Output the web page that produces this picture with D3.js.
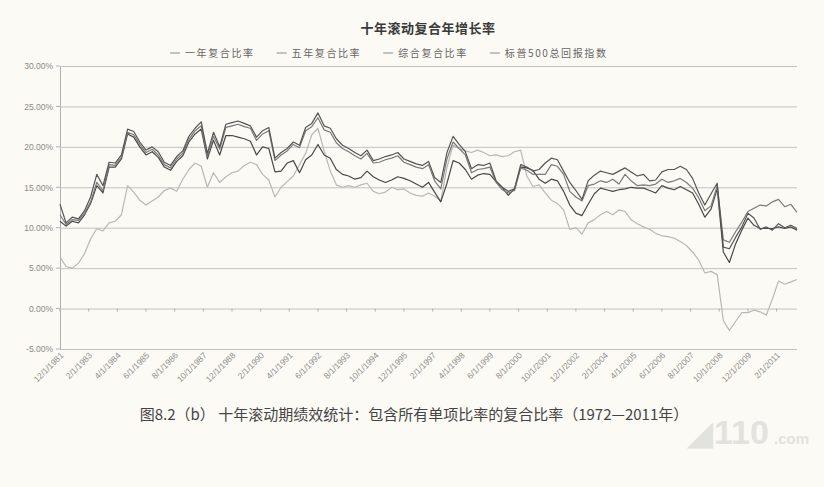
<!DOCTYPE html>
<html>
<head>
<meta charset="utf-8">
<script src="https://cdn.jsdelivr.net/npm/d3@7"></script>
<style>
  body { margin: 0; background: #fbfaf4; }
</style>
</head>
<body>
<div id="chart"></div>
<script>
// Series names, as shown in the legend
var seriesNames = ["一年复合比率", "五年复合比率", "综合复合比率", "标普500总回报指数"];

// Category axis labels (every 14 months)
var tickLabels = ["12/1/1981", "2/1/1983", "4/1/1984", "6/1/1985", "8/1/1986", "10/1/1987",
    "12/1/1988", "2/1/1990", "4/1/1991", "6/1/1992", "8/1/1993", "10/1/1994", "12/1/1995",
    "2/1/1997", "4/1/1998", "6/1/1999", "8/1/2000", "10/1/2001", "12/1/2002", "2/1/2004",
    "4/1/2005", "6/1/2006", "8/1/2007", "10/1/2008", "12/1/2009", "2/1/2011"];

var yTicks = [-5, 0, 5, 10, 15, 20, 25, 30];

// Quarterly readings (%), Dec 1981 .. Dec 2011
var oneYear = [12.9, 10.6, 11.3, 11.1, 12.1, 13.8, 16.6, 15.2, 18.1, 18.0,
    19.0, 22.2, 21.9, 20.6, 19.6, 20.0, 19.4, 18.1, 17.7, 18.8,
    19.5, 21.3, 22.3, 23.1, 19.2, 21.8, 20.0, 22.8, 23.0, 23.2,
    22.9, 22.6, 21.2, 22.0, 22.4, 18.6, 19.3, 19.8, 20.6, 20.2,
    22.4, 22.9, 24.2, 22.6, 22.3, 21.0, 20.2, 19.8, 19.3, 18.9,
    19.6, 18.3, 18.5, 18.8, 19.0, 19.3, 18.5, 18.2, 17.9, 17.7,
    18.2, 16.2, 15.6, 19.3, 21.3, 20.3, 19.4, 17.3, 17.8, 17.7,
    18.0, 15.8, 15.0, 14.5, 14.8, 17.8, 17.5, 17.0, 17.2, 18.0,
    18.6, 18.4, 17.0, 15.6, 14.6, 13.5, 15.8, 16.5, 17.0, 16.8,
    16.6, 17.0, 17.4, 16.9, 16.4, 16.6, 15.8, 15.9, 16.9, 17.2,
    17.2, 17.6, 17.2, 16.1, 14.3, 12.8, 14.2, 15.5, 7.6, 7.4,
    8.8, 10.1, 11.8, 11.2, 9.8, 10.1, 9.7, 10.5, 10.0, 10.3, 9.9];

var fiveYear = [11.6, 10.4, 11.0, 10.9, 11.8, 13.2, 15.6, 14.6, 17.8, 17.7,
    18.7, 21.8, 21.5, 20.3, 19.3, 19.7, 19.0, 17.8, 17.4, 18.5,
    19.2, 20.9, 22.0, 22.6, 18.8, 21.3, 19.7, 22.4, 22.6, 22.8,
    22.5, 22.3, 20.8, 21.6, 22.0, 18.3, 19.0, 19.5, 20.3, 19.9,
    22.0, 22.5, 23.6, 22.1, 21.8, 20.5, 19.8, 19.4, 18.9, 18.5,
    19.2, 18.0, 18.1, 18.4, 18.6, 18.9, 18.1, 17.8, 17.5, 17.3,
    17.8, 15.8, 14.8, 18.5, 20.6, 19.8, 19.0, 16.8, 17.2, 17.3,
    17.5, 15.6, 14.7, 14.3, 14.6, 17.4, 17.1, 16.6, 16.6, 16.6,
    17.8, 17.6, 16.6, 14.5, 13.8, 13.3, 15.2, 15.4, 15.8, 15.6,
    16.0, 15.4, 16.6, 15.8, 15.2, 15.3, 15.2, 15.4, 16.0, 15.6,
    15.8, 16.1, 15.6, 14.9, 13.7, 12.1, 12.7, 15.2, 8.5, 8.2,
    9.5, 10.7, 12.0, 12.4, 12.8, 12.7, 13.2, 13.5, 12.6, 12.9, 11.9];

var combined = [10.8, 10.2, 10.8, 10.6, 11.6, 13.0, 15.2, 14.3, 17.5, 17.5,
    18.5, 21.6, 21.2, 20.0, 19.0, 19.4, 18.7, 17.5, 17.1, 18.2,
    18.9, 20.6, 21.6, 22.2, 18.5, 20.8, 19.0, 21.4, 21.4, 21.2,
    21.0, 20.7, 19.0, 20.0, 19.8, 16.9, 17.0, 18.0, 18.3, 16.8,
    18.4, 19.0, 20.3, 19.0, 18.6, 17.2, 16.6, 16.4, 16.0, 16.2,
    17.0, 16.3, 15.9, 15.6, 15.9, 16.3, 16.1, 15.8, 15.4, 15.0,
    15.6, 14.4, 13.2, 15.5, 18.3, 18.0, 17.2, 16.0, 16.5, 16.7,
    16.6, 15.7, 15.0, 14.0, 14.8, 17.5, 17.4, 17.1, 16.0, 15.5,
    16.0, 15.8, 14.5, 12.8, 11.8, 11.5, 12.9, 14.2, 14.9, 14.7,
    14.5, 14.7, 14.8, 15.0, 14.9, 14.9, 14.6, 14.3, 15.2, 14.9,
    14.7, 15.1, 14.7, 14.3, 12.9, 11.3, 12.3, 14.8, 7.0, 5.7,
    8.0, 9.7, 11.2, 10.3, 9.9, 9.9, 9.9, 10.1, 9.9, 10.1, 9.7];

var sp500 = [6.4, 5.2, 5.0, 5.6, 6.8, 8.6, 9.9, 9.6, 10.6, 10.8,
    11.6, 15.2, 14.4, 13.4, 12.8, 13.3, 13.8, 14.6, 14.9, 14.5,
    16.0, 17.2, 18.0, 17.6, 15.0, 16.8, 15.6, 16.3, 16.8, 17.0,
    17.7, 18.1, 17.8, 16.6, 15.9, 13.8, 15.0, 15.7, 16.4, 17.8,
    19.2, 21.5, 22.3, 19.5, 17.0, 15.3, 15.0, 15.2, 15.0, 15.3,
    15.5, 14.5, 14.2, 14.4, 15.0, 14.7, 14.8, 14.3, 14.0, 13.9,
    14.3, 13.9, 13.3, 17.5, 20.2, 19.8, 19.5, 19.3, 19.6, 19.3,
    18.9, 19.0, 18.8, 18.9, 19.4, 19.6, 16.4, 15.1, 15.3, 14.3,
    13.4, 13.0, 12.2, 9.8, 10.0, 9.2, 10.6, 11.0, 11.6, 12.0,
    11.6, 12.2, 12.0, 11.0, 10.5, 10.1, 9.8, 9.3, 9.0, 8.9,
    8.7, 8.3, 7.8, 7.0, 6.0, 4.4, 4.6, 4.2, -1.5, -2.7,
    -1.6, -0.5, -0.5, -0.2, -0.4, -0.8, 1.2, 3.4, 3.0, 3.3, 3.6];

var seriesColors = ["#555555", "#7a7a7a", "#484848", "#b8b8b8"];

var fullWidth = 824, fullHeight = 487;
var margin = { top: 66, right: 27, bottom: 138, left: 60 };
var width = fullWidth - margin.left - margin.right;
var height = fullHeight - margin.top - margin.bottom;

var parseDate = d3.timeParse("%m/%d/%Y");
var firstDate = new Date(1981, 11, 1);
var dates = d3.range(oneYear.length).map(function(i) { return d3.timeMonth.offset(firstDate, 3 * i); });

var seriesData = [oneYear, fiveYear, combined, sp500].map(function(values, i) {
    return {
        name: seriesNames[i],
        color: seriesColors[i],
        values: values.map(function(v, j) { return { date: dates[j], value: v }; })
    };
});

var x = d3.scaleTime().domain([dates[0], dates[dates.length - 1]]).range([0, width]);
var y = d3.scaleLinear().domain([-5, 30]).range([height, 0]);

var svg = d3.select("#chart").append("svg")
    .attr("width", fullWidth)
    .attr("height", fullHeight)
    .style("font-family", "'Liberation Sans', Arial, sans-serif");

svg.append("rect").attr("width", fullWidth).attr("height", fullHeight).attr("fill", "#fbfaf4");

// Title
svg.append("text")
    .attr("x", 428).attr("y", 33)
    .attr("text-anchor", "middle")
    .style("font-family", "'Noto Sans CJK SC', sans-serif")
    .style("font-weight", "bold")
    .style("font-size", "13px")
    .style("letter-spacing", "0.5px")
    .attr("fill", "#3a3a3a")
    .text("十年滚动复合年增长率");

var g = svg.append("g").attr("transform", "translate(" + margin.left + "," + margin.top + ")");

// Y axis with gridlines
var yAxis = g.append("g")
    .call(d3.axisLeft(y).tickValues(yTicks).tickSize(-width).tickPadding(7)
        .tickFormat(function(d) { return d.toFixed(2) + "%"; }));
yAxis.select(".domain").attr("stroke", "#b0b0b0");
yAxis.selectAll(".tick line").attr("stroke", "#c2c2c2");
yAxis.selectAll(".tick text").attr("fill", "#8a8a8a").style("font-size", "8.5px");

// small tick marks on the left of the axis
g.append("g").selectAll("line").data(yTicks).enter().append("line")
    .attr("x1", -4).attr("x2", 0)
    .attr("y1", function(d) { return y(d); }).attr("y2", function(d) { return y(d); })
    .attr("stroke", "#b0b0b0");

// Category tick marks on the zero line
var tickDates = tickLabels.map(parseDate);
g.append("g").selectAll("line").data(tickDates).enter().append("line")
    .attr("x1", function(d) { return x(d); }).attr("x2", function(d) { return x(d); })
    .attr("y1", y(0)).attr("y2", y(0) + 3)
    .attr("stroke", "#b0b0b0");

// Rotated labels below the plot
g.append("g").selectAll("text").data(tickLabels).enter().append("text")
    .attr("transform", function(d) {
        return "translate(" + (x(parseDate(d)) + 4) + "," + (height + 7) + ") rotate(-45)";
    })
    .attr("text-anchor", "end")
    .attr("fill", "#909090")
    .style("font-size", "8.5px")
    .text(function(d) { return d; });

// Lines
var valueline = d3.line()
    .x(function(d) { return x(d.date); })
    .y(function(d) { return y(d.value); });

seriesData.slice().reverse().forEach(function(s) {
    g.append("path")
        .datum(s.values)
        .attr("fill", "none")
        .attr("stroke", s.color)
        .attr("stroke-width", 1.2)
        .attr("stroke-linejoin", "round")
        .attr("d", valueline);
});

// Legend
var legend = svg.append("g").attr("transform", "translate(170,57)");
var legendX = 0;
seriesData.forEach(function(s) {
    var item = legend.append("g").attr("transform", "translate(" + legendX + ",0)");
    item.append("line")
        .attr("x1", 0).attr("x2", 10).attr("y1", -4).attr("y2", -4)
        .attr("stroke", "#8a8a8a").attr("stroke-width", 1);
    var w = item.append("text")
        .attr("x", 15)
        .style("font-family", "'Noto Sans CJK SC', sans-serif")
        .style("font-size", "10px")
        .style("letter-spacing", "1.6px")
        .attr("fill", "#666")
        .text(s.name)
        .node().getComputedTextLength();
    legendX += 15 + w + 22;
});

// Caption
svg.append("text")
    .attr("x", 414).attr("y", 420)
    .attr("text-anchor", "middle")
    .style("font-family", "'Noto Sans CJK SC', sans-serif")
    .style("font-size", "15px")
    .attr("fill", "#444")
    .text("图8.2（b） 十年滚动期绩效统计：包含所有单项比率的复合比率（1972—2011年）");

// Watermark
var wm = svg.append("g").attr("transform", "translate(688,444)").attr("fill", "#e2e2de");
wm.append("text").style("font-size", "32px").style("font-weight", "bold").text("\u25E2");
wm.append("text").attr("x", 26).style("font-size", "34px").style("font-weight", "bold").text("110");
wm.append("text").attr("x", 86).style("font-size", "15px").style("font-weight", "bold").text(".com");
</script>
</body>
</html>
